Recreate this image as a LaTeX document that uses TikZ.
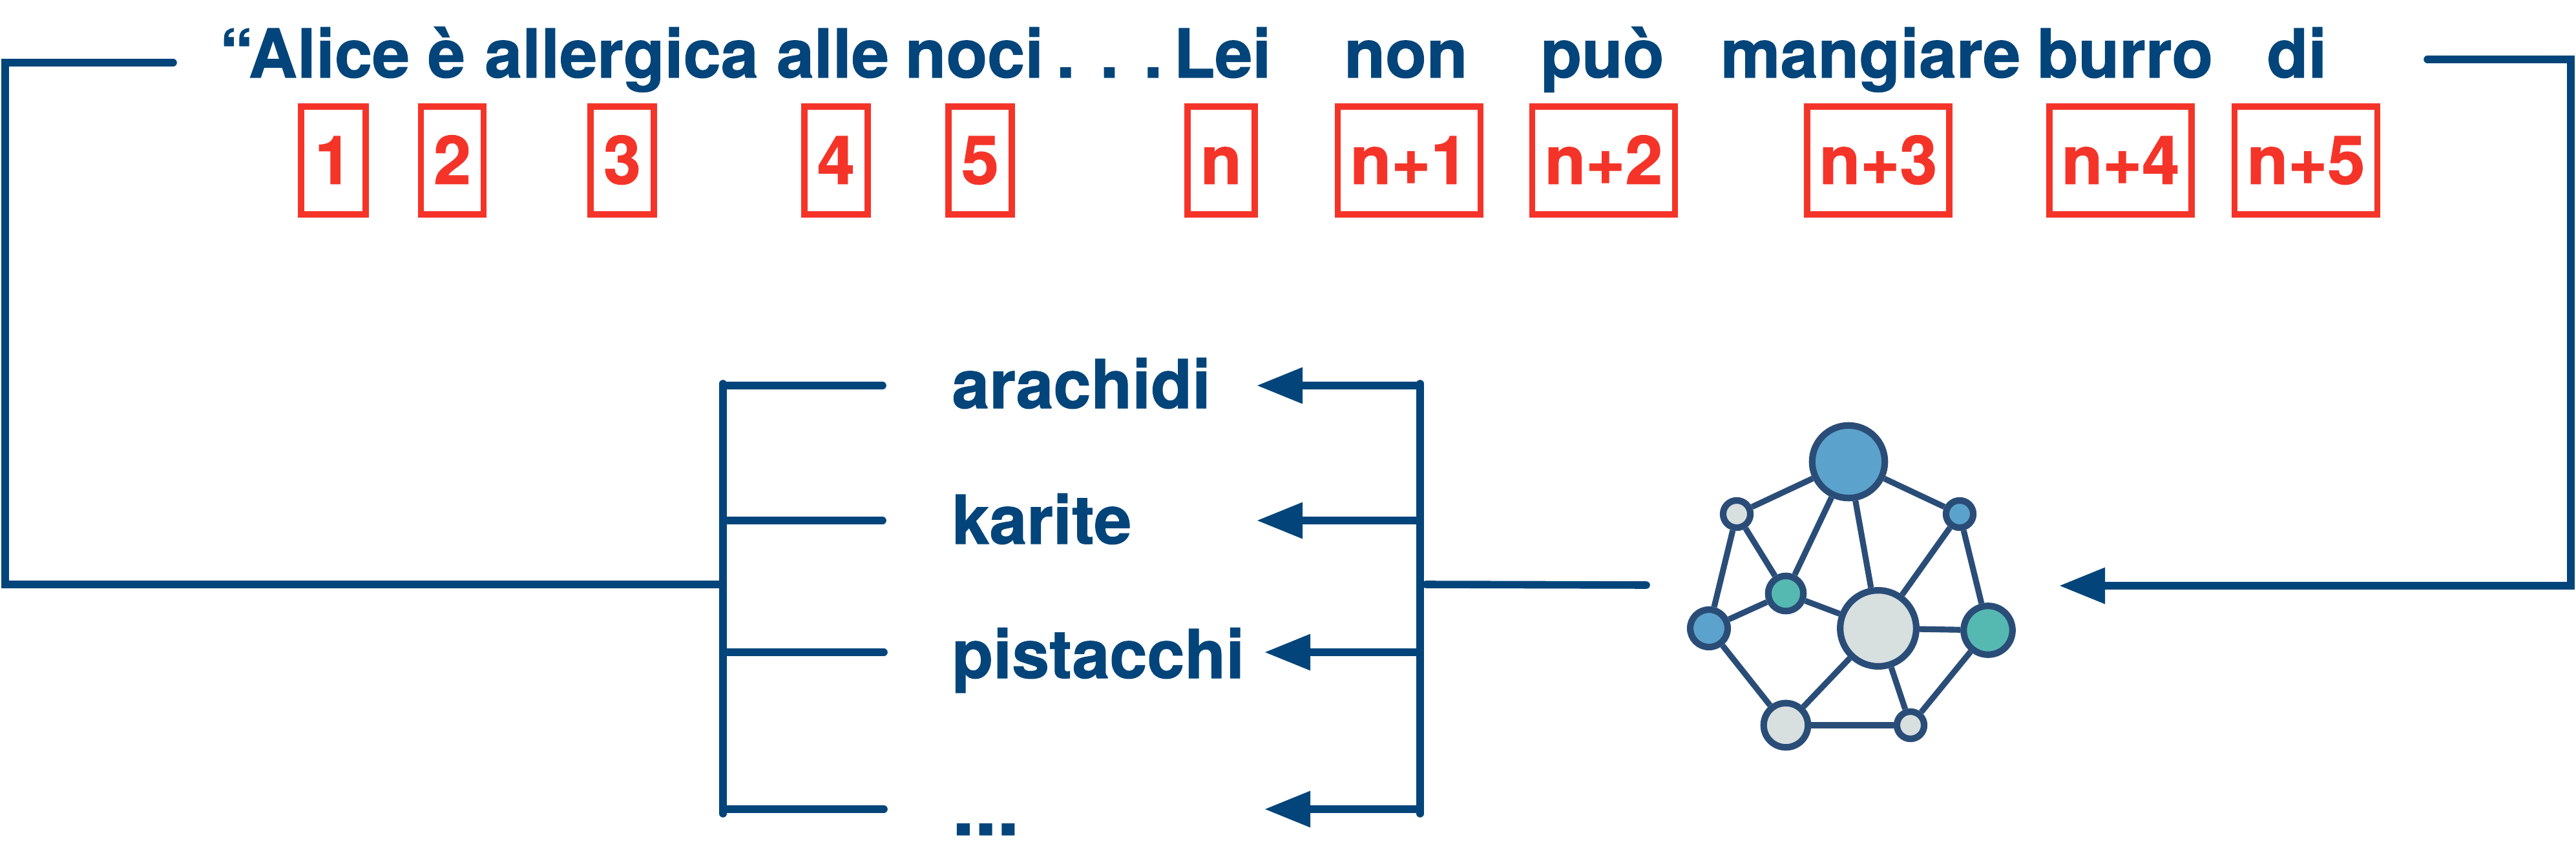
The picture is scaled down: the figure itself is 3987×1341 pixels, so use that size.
\documentclass[tikz,border=0pt]{standalone}
\usepackage{fontspec}
\setmainfont[BoldFeatures={FakeBold=1}]{TeX Gyre Heros}
\usetikzlibrary{arrows.meta}
\definecolor{navy}{HTML}{03457A}
\definecolor{redmark}{HTML}{F53429}
\definecolor{netline}{HTML}{2A4D78}
\definecolor{netblue}{HTML}{5BA3CC}
\definecolor{netgrey}{HTML}{D8DFDF}
\definecolor{netteal}{HTML}{55B9B2}
\tikzset{
  word/.style={inner sep=0pt,anchor=base,text=navy,font=\fontsize{59.4}{70}\bfseries\selectfont},
  item/.style={inner sep=0pt,anchor=base west,text=navy,font=\fontsize{59.4}{70}\bfseries\selectfont},
  tag/.style={draw=redmark,line width=5.4pt,inner sep=0pt,text=redmark,
    minimum height=95pt,text height=41.5pt,text depth=0pt,
    font=\fontsize{59.4}{70}\bfseries\selectfont},
  wire/.style={draw=navy,line width=6.6pt,line cap=round,line join=miter},
  arrowwire/.style={wire,-{Triangle[length=40.5pt,width=30.5pt]}},
  netnode/.style={draw=netline,line width=5.8pt,circle,inner sep=0pt},
  netedge/.style={draw=netline,line width=5.2pt},
}
\begin{document}
\begin{tikzpicture}[x=0.02cm,y=-0.02cm]
\useasboundingbox (0,0) rectangle (3987,1341);
% sentence
\node[word] (w1) at (487,120) {“Alice};
\node[word] (w2) at (691,120) {è};
\node[word] (w3) at (962,120) {allergica};
\node[word] (w4) at (1289,120) {alle};
\node[word] (w5) at (1508,120) {noci};
\node[word] (w6) at (1717,120) {. . .};
\node[word] (w7) at (1892,120) {Lei};
\node[word] (w8) at (2176,120) {non};
\node[word] (w9) at (2480,120) {può};
\node[word] (w10) at (2895,120) {mangiare};
\node[word] (w11) at (3289,120) {burro};
\node[word] (w12) at (3555,120) {di};
% position tags
\node[tag,minimum width=57pt] (t1) at (516,248.5) {1};
\node[tag,minimum width=55pt] (t2) at (700,248.5) {2};
\node[tag,minimum width=56pt] (t3) at (963,248.5) {3};
\node[tag,minimum width=56pt] (t4) at (1294,248.5) {4};
\node[tag,minimum width=56pt] (t5) at (1517,248.5) {5};
\node[tag,minimum width=59pt] (t6) at (1890,248.5) {n};
\node[tag,minimum width=126pt] (t7) at (2181,248.5) {n+1};
\node[tag,minimum width=126pt] (t8) at (2482,248.5) {n+2};
\node[tag,minimum width=125pt] (t9) at (2907,248.5) {n+3};
\node[tag,minimum width=125pt] (t10) at (3282,248.5) {n+4};
\node[tag,minimum width=126pt] (t11) at (3569,248.5) {n+5};
% candidates
\node[item] (c1) at (1473,632) {arachidi};
\node[item] (c2) at (1473,842) {karite};
\node[item] (c3) at (1473,1050) {pistacchi};
\node[item] (c4) at (1473,1293) {\scalebox{1.2}[1.15]{...}};
% coordinates of the wires
\coordinate (la) at (268,97);
\coordinate (lb) at (8,97);
\coordinate (lc) at (8,905);
\coordinate (ld) at (1119,905);
\coordinate (bl1) at (1119,597);
\coordinate (bl2) at (1119,806);
\coordinate (bl3) at (1119,1010);
\coordinate (bl4) at (1119,1253);
\coordinate (blt) at (1119,594);
\coordinate (blb) at (1119,1260);
\coordinate (el1) at (1366,597);
\coordinate (el2) at (1366,806);
\coordinate (el3) at (1368,1010);
\coordinate (el4) at (1368,1253);
\coordinate (br1) at (2196,597);
\coordinate (br2) at (2196,806);
\coordinate (br3) at (2196,1010);
\coordinate (br4) at (2196,1253);
\coordinate (brt) at (2198,594);
\coordinate (brb) at (2198,1260);
\coordinate (tp1) at (1945,597);
\coordinate (tp2) at (1945,806);
\coordinate (tp3) at (1957,1010);
\coordinate (tp4) at (1957,1253);
\coordinate (na) at (2207,905);
\coordinate (nb) at (2548,906);
\coordinate (ra) at (3757,92);
\coordinate (rb) at (3979,92);
\coordinate (rc) at (3979,907);
\coordinate (rd) at (3187,907);
% wires
\draw[wire] (la) -- (lb) -- (lc) -- (ld);
\draw[wire] (blt) -- (blb);
\draw[wire] (bl1) -- (el1);
\draw[wire] (bl2) -- (el2);
\draw[wire] (bl3) -- (el3);
\draw[wire] (bl4) -- (el4);
\draw[wire] (brt) -- (brb);
\draw[arrowwire] (br1) -- (tp1);
\draw[arrowwire] (br2) -- (tp2);
\draw[arrowwire] (br3) -- (tp3);
\draw[arrowwire] (br4) -- (tp4);
\draw[wire] (na) -- (nb);
\draw[arrowwire] (ra) -- (rb) -- (rc) -- (rd);
% network
\node[netnode,fill=netblue,minimum size=64pt] (n1) at (2861,715) {};
\node[netnode,fill=netgrey,minimum size=24pt] (n2) at (2688,796) {};
\node[netnode,fill=netblue,minimum size=24pt] (n3) at (3033,796) {};
\node[netnode,fill=netteal,minimum size=31pt] (n4) at (2764,919) {};
\node[netnode,fill=netgrey,minimum size=67pt] (n5) at (2907,973) {};
\node[netnode,fill=netblue,minimum size=33pt] (n6) at (2645,973) {};
\node[netnode,fill=netteal,minimum size=43pt] (n7) at (3077,976) {};
\node[netnode,fill=netgrey,minimum size=39pt] (n8) at (2764,1123) {};
\node[netnode,fill=netgrey,minimum size=24pt] (n9) at (2957,1123) {};
\foreach \a/\b in {n1/n2,n1/n3,n1/n4,n1/n5,n2/n4,n2/n6,n3/n5,n3/n7,n4/n6,n4/n5,n5/n7,n5/n8,n5/n9,n6/n8,n7/n9,n8/n9}
  \draw[netedge] (\a) -- (\b);
\end{tikzpicture}
\end{document}
